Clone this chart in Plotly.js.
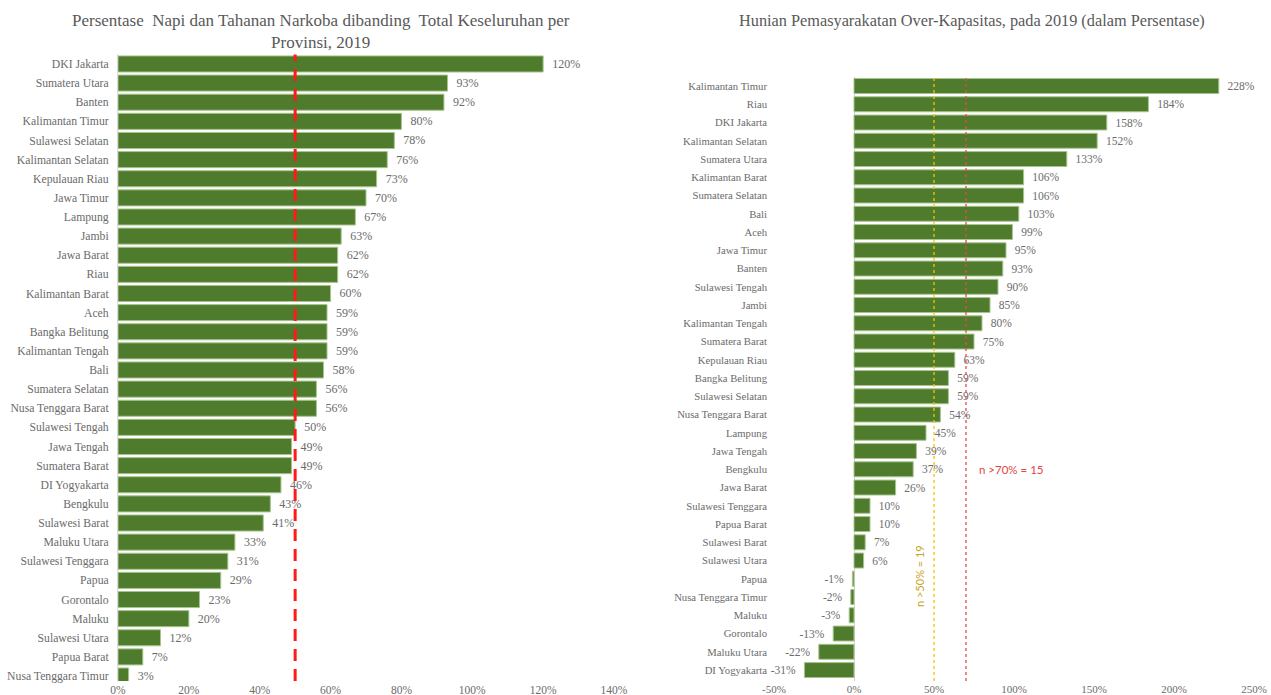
<!DOCTYPE html>
<html>
<head>
<meta charset="utf-8">
<script src="https://cdn.plot.ly/plotly-3.0.1.min.js"></script>
<style>html,body{margin:0;padding:0;background:#fff;}#chart{width:1271px;height:695px;}</style>
</head>
<body>
<div id="chart"></div>
<script>
// Left chart: share of drug inmates
const leftProvinces = ["DKI Jakarta","Sumatera Utara","Banten","Kalimantan Timur","Sulawesi Selatan","Kalimantan Selatan","Kepulauan Riau","Jawa Timur","Lampung","Jambi","Jawa Barat","Riau","Kalimantan Barat","Aceh","Bangka Belitung","Kalimantan Tengah","Bali","Sumatera Selatan","Nusa Tenggara Barat","Sulawesi Tengah","Jawa Tengah","Sumatera Barat","DI Yogyakarta","Bengkulu","Sulawesi Barat","Maluku Utara","Sulawesi Tenggara","Papua","Gorontalo","Maluku","Sulawesi Utara","Papua Barat","Nusa Tenggara Timur"];
const leftValues = [120,93,92,80,78,76,73,70,67,63,62,62,60,59,59,59,58,56,56,50,49,49,46,43,41,33,31,29,23,20,12,7,3];

// Right chart: over-capacity
const rightProvinces = ["Kalimantan Timur","Riau","DKI Jakarta","Kalimantan Selatan","Sumatera Utara","Kalimantan Barat","Sumatera Selatan","Bali","Aceh","Jawa Timur","Banten","Sulawesi Tengah","Jambi","Kalimantan Tengah","Sumatera Barat","Kepulauan Riau","Bangka Belitung","Sulawesi Selatan","Nusa Tenggara Barat","Lampung","Jawa Tengah","Bengkulu","Jawa Barat","Sulawesi Tenggara","Papua Barat","Sulawesi Barat","Sulawesi Utara","Papua","Nusa Tenggara Timur","Maluku","Gorontalo","Maluku Utara","DI Yogyakarta"];
const rightValues = [228,184,158,152,133,106,106,103,99,95,93,90,85,80,75,63,59,59,54,45,39,37,26,10,10,7,6,-1,-2,-3,-13,-22,-31];

const leftTickVals = [0,20,40,60,80,100,120,140];
const rightTickVals = [-50,0,50,100,150,200,250];

const serif = "Liberation Serif, DejaVu Serif, serif";
const gray = "#6b6b6b";
const green = "#4f7c2c";
const pad = "\u2002";
const label = v => v >= 0 ? pad + v + "%" : v + "%" + pad;

const traces = [
  {
    type: "bar", orientation: "h",
    x: leftValues, y: leftProvinces,
    xaxis: "x", yaxis: "y",
    width: 0.84,
    marker: {color: green, line: {color: "#a8c48e", width: 1}},
    text: leftValues.map(label),
    textposition: "outside", cliponaxis: false,
    textfont: {family: serif, size: 12, color: gray},
    hoverinfo: "x+y"
  },
  {
    type: "bar", orientation: "h",
    x: rightValues, y: rightProvinces,
    xaxis: "x2", yaxis: "y2",
    width: 0.82,
    marker: {color: green, line: {color: "#a8c48e", width: 1}},
    text: rightValues.map(label),
    textposition: "outside", cliponaxis: false,
    textfont: {family: serif, size: 11.5, color: gray},
    hoverinfo: "x+y"
  }
];

const W = 1271, H = 695;
const layout = {
  width: W, height: H,
  margin: {l: 0, r: 0, t: 0, b: 0},
  paper_bgcolor: "#fff", plot_bgcolor: "rgba(0,0,0,0)",
  showlegend: false,
  font: {family: serif, color: gray},
  xaxis: {
    domain: [118 / W, 614 / W], range: [0, 140],
    tickvals: leftTickVals, ticktext: leftTickVals.map(v => v + "%"),
    showgrid: false, zeroline: false, showline: false,
    tickfont: {family: serif, size: 11.5, color: gray},
    anchor: "y", fixedrange: true
  },
  yaxis: {
    domain: [14 / H, (H - 54.4) / H],
    type: "category", range: [32.26, -0.5],
    showgrid: false, zeroline: false,
    showline: true, linecolor: "#d9d9d9", linewidth: 1,
    tickfont: {family: serif, size: 11.7, color: gray},
    ticks: "", ticklabelstandoff: 6,
    anchor: "x", fixedrange: true
  },
  xaxis2: {
    domain: [774 / W, 1254 / W], range: [-50, 250],
    tickvals: rightTickVals, ticktext: rightTickVals.map(v => v + "%"),
    showgrid: false, zeroline: true, zerolinecolor: "#d0d0d0", zerolinewidth: 1,
    showline: false,
    tickfont: {family: serif, size: 11, color: gray},
    anchor: "y2", fixedrange: true
  },
  yaxis2: {
    domain: [14 / H, (H - 76.9) / H],
    type: "category", range: [32.6, -0.5],
    showgrid: false, zeroline: false, showline: false,
    tickfont: {family: serif, size: 10.7, color: gray},
    ticks: "", ticklabelstandoff: 6,
    anchor: "x2", fixedrange: true
  },
  shapes: [
    {type: "line", xref: "x", yref: "paper", x0: 50, x1: 50, y0: 14 / H, y1: (H - 54.4) / H,
     line: {color: "#ff1a1a", width: 3, dash: "12px,8px"}},
    {type: "line", xref: "x2", yref: "paper", x0: 50, x1: 50, y0: 14 / H, y1: (H - 76.9) / H,
     line: {color: "#ffc000", width: 1.3, dash: "dot"}},
    {type: "line", xref: "x2", yref: "paper", x0: 70, x1: 70, y0: 14 / H, y1: (H - 76.9) / H,
     line: {color: "#e8474c", width: 1.3, dash: "dot"}}
  ],
  annotations: [
    {text: "Persentase  Napi dan Tahanan Narkoba dibanding  Total Keseluruhan per<br>Provinsi, 2019",
     xref: "paper", yref: "paper", x: 321 / W, y: (H - 9) / H, xanchor: "center", yanchor: "top",
     showarrow: false, font: {family: serif, size: 17, color: "#595959"}, align: "center"},
    {text: "Hunian Pemasyarakatan Over-Kapasitas, pada 2019 (dalam Persentase)",
     xref: "paper", yref: "paper", x: 972 / W, y: (H - 9) / H, xanchor: "center", yanchor: "top",
     showarrow: false, font: {family: serif, size: 16.3, color: "#595959"}},
    {text: "n >70% = 15", xref: "x2", yref: "y2", x: 77, y: "Bengkulu", xanchor: "left", yanchor: "middle",
     showarrow: false, font: {family: "Lato, Open Sans, sans-serif", size: 11.5, color: "#e04545"}},
    {text: "n >50% = 19", xref: "x2", yref: "paper", x: 40.6, y: (H - 576) / H, xanchor: "center", yanchor: "middle",
     textangle: -90, showarrow: false, font: {family: "Lato, Open Sans, sans-serif", size: 11, color: "#c9a227"}}
  ]
};

Plotly.newPlot("chart", traces, layout, {displayModeBar: false, staticPlot: true});
</script>
</body>
</html>
